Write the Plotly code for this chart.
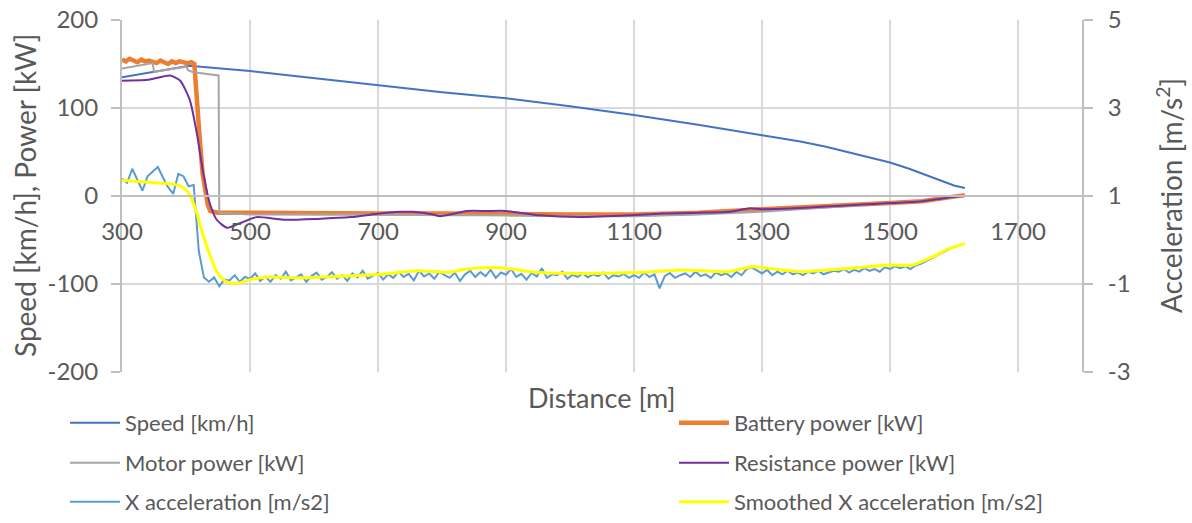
import numpy as np
import plotly.graph_objects as go

# ---------------- data ----------------
spd_d = [300, 350, 405, 500, 600, 700, 800, 900, 1000, 1100, 1200, 1300, 1360, 1400, 1450, 1500, 1530, 1560, 1580, 1600, 1617]
spd_v = [135, 141, 148, 142, 134, 126, 118, 111, 102, 92, 81, 69, 62, 56, 47, 38, 31, 23, 17, 12, 9]

bat_d = [300, 306, 312, 318, 324, 330, 336, 342, 348, 354, 360, 366, 372, 378, 384, 390, 396, 402, 408, 413,
         415, 417, 419, 422, 426, 430, 434, 438, 450, 500, 600, 700, 800, 900, 1000, 1100, 1200, 1300, 1400,
         1500, 1550, 1600, 1617]
bat_v = [155, 153, 156, 154, 152, 155, 153, 154, 152, 151, 154, 152, 150, 153, 151, 153, 152, 151, 152, 150,
         130, 104, 98, 60, 25, 5, -10, -17, -19, -19, -20, -20, -20, -21, -21, -21, -19, -15, -12,
         -8, -6, -1, 1]

mot_d = [300, 348, 350, 401, 403, 410, 430, 451, 452, 500, 600, 700, 800, 900, 1000, 1100, 1200, 1300, 1400, 1500, 1560, 1617]
mot_v = [145, 151, 141, 147, 143, 141, 139, 137, -19, -21, -21, -21, -22, -22, -23, -23, -21, -18, -13, -8, -5, 0]

res_d = [300, 340, 375, 391, 406, 417, 427, 437, 448, 464, 484, 510, 552, 605, 658, 703, 734, 755, 786, 797,
         839, 870, 900, 953, 1016, 1094, 1145, 1200, 1250, 1281, 1300, 1350, 1400, 1450, 1500, 1550, 1580, 1600, 1617]
res_v = [131, 132, 137, 131, 109, 71, 26, -8, -27, -36, -31, -24, -27, -26, -24, -20, -18, -18, -21, -23,
         -17, -17, -17, -22, -24, -22, -20, -19, -18, -14, -15, -14, -12, -10, -8, -6, -3, -1, 0]

acc_start, acc_step = 300, 8
acc_raw = [
    1.40, 1.30, 1.62, 1.38, 1.12, 1.45, 1.55, 1.66, 1.42, 1.20,
    1.05, 1.50, 1.45, 1.22, 1.25, -0.25, -0.85, -0.95, -0.85, -1.05,
    -0.90, -0.92, -0.80, -0.95, -0.84, -0.88, -0.76, -0.93, -0.83, -0.95,
    -0.80, -0.88, -0.72, -0.92, -0.85, -0.78, -0.95, -0.82, -0.74, -0.90,
    -0.84, -0.73, -0.88, -0.80, -0.93, -0.76, -0.85, -0.70, -0.88, -0.82,
    -0.75, -0.90, -0.78, -0.86, -0.72, -0.84, -0.77, -0.92, -0.70, -0.83,
    -0.76, -0.88, -0.72, -0.80, -0.86, -0.74, -0.93, -0.78, -0.70, -0.84,
    -0.73, -0.82, -0.68, -0.86, -0.74, -0.79, -0.66, -0.84, -0.77, -0.90,
    -0.75, -0.83, -0.64, -0.86, -0.78, -0.80, -0.72, -0.88, -0.79, -0.84,
    -0.76, -0.85, -0.78, -0.82, -0.74, -0.88, -0.80, -0.83, -0.77, -0.86,
    -0.80, -0.86, -0.74, -0.84, -0.78, -1.10, -0.82, -0.75, -0.86, -0.80,
    -0.76, -0.84, -0.72, -0.82, -0.78, -0.86, -0.74, -0.80, -0.76, -0.84,
    -0.72, -0.80, -0.66, -0.62, -0.70, -0.76, -0.68, -0.80, -0.72, -0.78,
    -0.70, -0.78, -0.74, -0.80, -0.72, -0.76, -0.70, -0.78, -0.74, -0.70,
    -0.72, -0.66, -0.74, -0.68, -0.72, -0.64, -0.70, -0.66, -0.72, -0.62,
    -0.66, -0.60, -0.64, -0.60, -0.66, -0.58, -0.54, -0.48, -0.42, -0.36,
    -0.30, -0.24, -0.18, -0.14, -0.10,
]
acc_d = [acc_start + acc_step * i for i in range(len(acc_raw))]

sm_d = [300, 340, 380, 395, 405, 415, 425, 435, 448, 460, 470, 485, 500, 530, 580, 650, 710, 760, 810, 840,
        890, 950, 1020, 1100, 1180, 1245, 1285, 1330, 1360, 1440, 1500, 1535, 1567, 1590, 1617]
sm_v = [1.36, 1.31, 1.27, 1.20, 1.05, 0.70, 0.20, -0.25, -0.72, -0.92, -0.98, -0.97, -0.90, -0.84, -0.86, -0.82,
        -0.77, -0.70, -0.73, -0.66, -0.63, -0.74, -0.76, -0.74, -0.68, -0.72, -0.61, -0.68, -0.72, -0.64,
        -0.57, -0.57, -0.38, -0.21, -0.08]

x_ticks = [300, 500, 700, 900, 1100, 1300, 1500, 1700]
y_ticks = [-200, -100, 0, 100, 200]
y_labels = ["-200", "-100", "0", "100", "200"]
y2_ticks = [-3, -1, 1, 3, 5]
y2_labels = ["-3", "-1", "1", "3", "5"]

# ---------------- figure ----------------
FONT = "Lato"
TXT = "#595959"
GRID = "#d9d9d9"
AXL = "#bfbfbf"

series = [
    # name, x, y, color, width, axis, spline, legend id
    ("Speed [km/h]", spd_d, spd_v, "#4472C4", 2, "y", False, "legend"),
    ("Battery power [kW]", bat_d, bat_v, "#ED7D31", 4.5, "y", False, "legend2"),
    ("Motor power [kW]", mot_d, mot_v, "#A5A5A5", 2, "y", False, "legend3"),
    ("Resistance power [kW]", res_d, res_v, "#7030A0", 2, "y", True, "legend4"),
    ("X acceleration [m/s2]", acc_d, acc_raw, "#5B9BD5", 2, "y2", False, "legend5"),
    ("Smoothed X acceleration [m/s2]", sm_d, sm_v, "#FFFF00", 3, "y2", True, "legend6"),
]

fig = go.Figure()
for name, xs, ys, col, w, ax, spl, leg in series:
    line = dict(color=col, width=w)
    if spl:
        line.update(shape="spline", smoothing=0.6)
    fig.add_trace(go.Scatter(x=xs, y=ys, name=name, mode="lines", yaxis=ax, line=line, legend=leg))

# legend placement: two columns, three rows
col_x = [65, 674]
row_y = [423, 463, 502]
legends = {}
for i, leg in enumerate(["legend", "legend2", "legend3", "legend4", "legend5", "legend6"]):
    c, r = i % 2, i // 2
    legends[leg] = dict(orientation="h", xref="container", yref="container",
                        x=col_x[c] / 1192, xanchor="left", y=1 - row_y[r] / 523, yanchor="middle",
                        itemwidth=50, font=dict(family=FONT, size=22, color=TXT),
                        bgcolor="rgba(0,0,0,0)")

fig.update_layout(
    width=1192, height=523,
    margin=dict(l=122, r=110, t=20, b=151, autoexpand=False),
    paper_bgcolor="white", plot_bgcolor="white",
    font=dict(family=FONT, size=24, color=TXT),
    showlegend=True,
    **legends,
    xaxis=dict(range=[300, 1800], tickvals=x_ticks, showgrid=True, gridcolor=GRID, gridwidth=2,
               anchor="free", position=0.5, showline=True, linecolor=AXL, linewidth=2,
               ticks="", ticklabelstandoff=14, zeroline=False,
               tickfont=dict(family=FONT, size=24, color=TXT)),
    yaxis=dict(range=[-200, 200], tickvals=y_ticks, ticktext=y_labels, showgrid=True, gridcolor=GRID,
               gridwidth=2, zeroline=False, showline=True, linecolor=AXL, linewidth=2, ticks="outside",
               ticklen=9, tickcolor=AXL, tickwidth=2, ticklabelstandoff=8,
               tickfont=dict(family=FONT, size=24, color=TXT)),
    yaxis2=dict(range=[-3, 5], tickvals=y2_ticks, ticktext=y2_labels, overlaying="y", side="right",
                anchor="x", showgrid=False, zeroline=False, showline=True, linecolor=AXL, linewidth=2,
                ticks="outside", ticklen=9, tickcolor=AXL, tickwidth=2, ticklabelstandoff=10,
                tickfont=dict(family=FONT, size=24, color=TXT)),
    annotations=[
        dict(text="Distance [m]", xref="paper", yref="paper", x=0.5, y=0, yshift=-25,
             xanchor="center", yanchor="middle", showarrow=False,
             font=dict(family=FONT, size=27, color=TXT)),
        dict(text="Speed [km/h], Power [kW]", xref="paper", yref="paper", x=0, y=0.5, xshift=-97,
             xanchor="center", yanchor="middle", textangle=-90, showarrow=False,
             font=dict(family=FONT, size=28, color=TXT)),
        dict(text="Acceleration [m/s<sup>2</sup>]", xref="paper", yref="paper", x=1, y=0.5, xshift=87,
             xanchor="center", yanchor="middle", textangle=-90, showarrow=False,
             font=dict(family=FONT, size=28, color=TXT)),
    ],
)

fig.write_html("out.html")
